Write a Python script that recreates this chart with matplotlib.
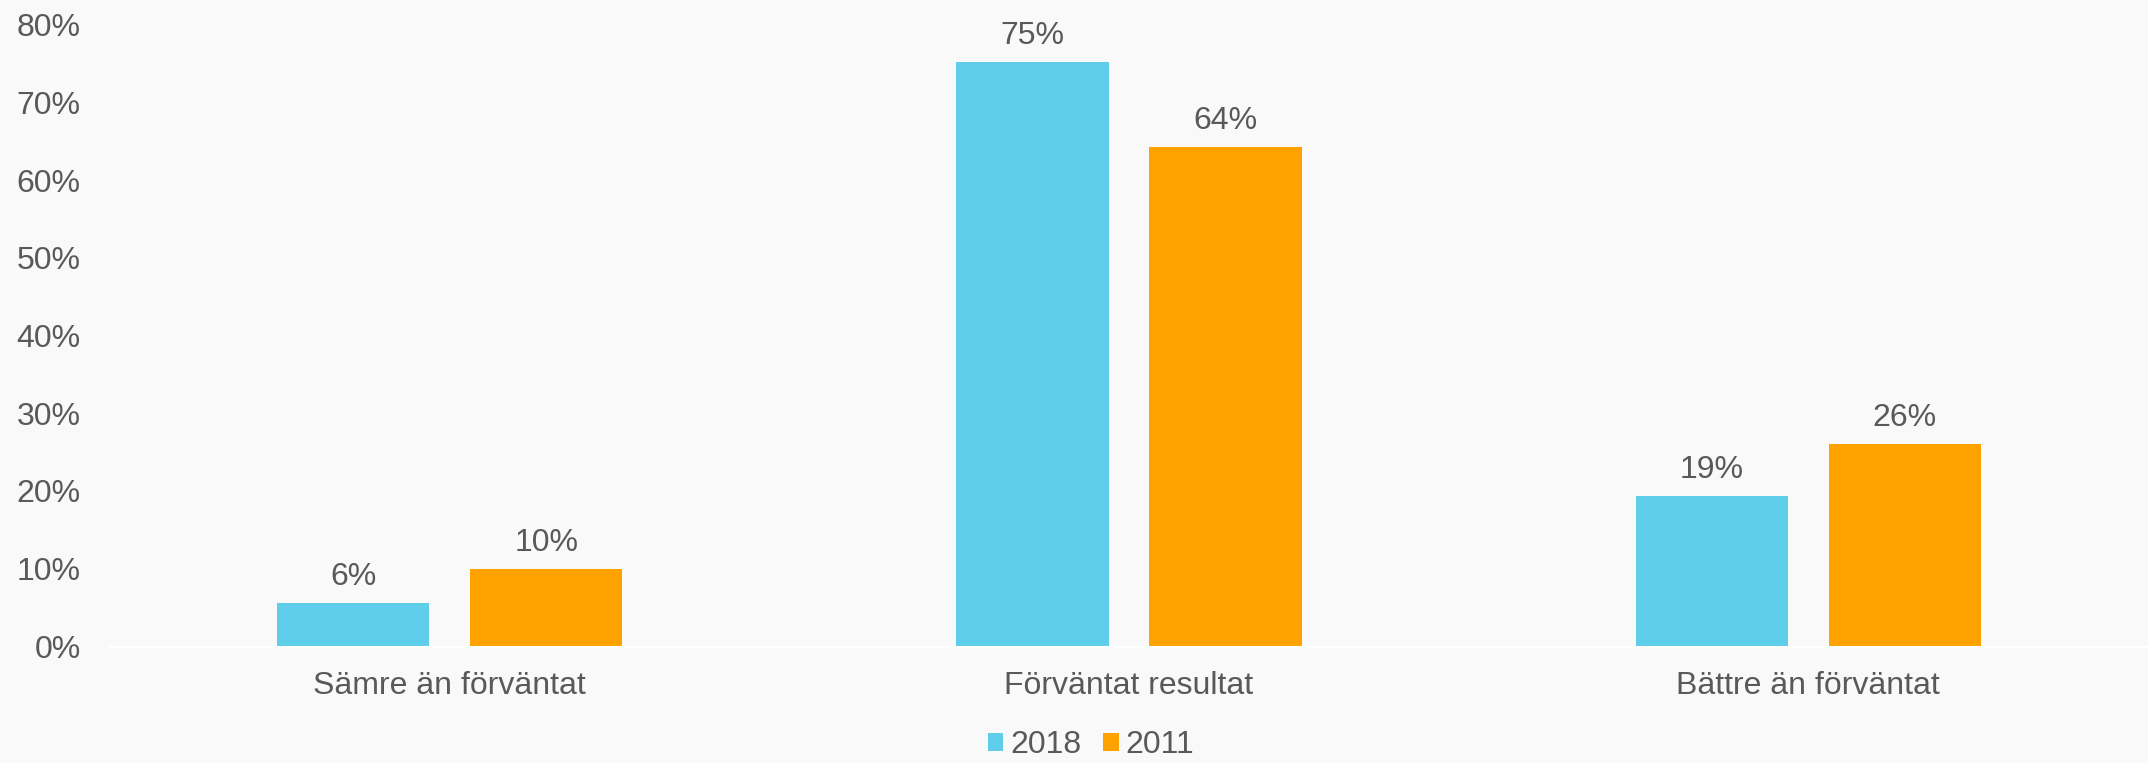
import numpy as np
import matplotlib
matplotlib.use("Agg")
import matplotlib.pyplot as plt
from matplotlib.ticker import FuncFormatter

# data to plot
categories = ["Sämre än förväntat", "Förväntat resultat", "Bättre än förväntat"]
series_names = ["2018", "2011"]
values_2018 = [5.6, 75.2, 19.3]
values_2011 = [10.0, 64.2, 26.0]

colors = ["#5ECEEB", "#FFA200"]
text_color = "#595959"
bg = "#F9F9F9"
fs = 23

plt.rcParams["font.family"] = ["Liberation Sans", "DejaVu Sans"]

fig = plt.figure(figsize=(21.48, 7.63), dpi=100, facecolor=bg)
ax = fig.add_axes([110 / 2148, 1 - 646.5 / 763, 1 - 110 / 2148, (646.5 - 24.5) / 763])
ax.set_facecolor(bg)

index = np.arange(len(categories))
bar_width = 0.224
offset = 0.142

for i, (name, vals) in enumerate(zip(series_names, [values_2018, values_2011])):
    pos = index + (offset if i else -offset)
    bars = ax.bar(pos, vals, bar_width, color=colors[i], label=name, zorder=2)
    for b, v in zip(bars, vals):
        ax.annotate(f"{v:.0f}%", (b.get_x() + b.get_width() / 2, v),
                    xytext=(0, 8), textcoords="offset points",
                    ha="center", va="bottom", fontsize=fs, color=text_color)

ax.set_xlim(-0.5, 2.5)
ax.set_ylim(0, 80)
ax.set_yticks(np.arange(0, 81, 10))
ax.yaxis.set_major_formatter(FuncFormatter(lambda x, p: f"{x:.0f}%"))
ax.set_xticks(index)
ax.set_xticklabels(categories)
ax.tick_params(axis="y", length=0, pad=21, labelsize=fs, labelcolor=text_color)
ax.tick_params(axis="x", length=0, pad=18, labelsize=fs, labelcolor=text_color)

for s in ["top", "right", "left"]:
    ax.spines[s].set_visible(False)
ax.spines["bottom"].set_color("#FFFFFF")
ax.spines["bottom"].set_linewidth(1.5)
ax.spines["bottom"].set_zorder(3)

leg = fig.legend(loc="center", bbox_to_anchor=(1091 / 2148, 1 - 745 / 763),
                 ncol=2, frameon=False, fontsize=fs, handlelength=0.5,
                 handleheight=0.5, handletextpad=0.2, columnspacing=0.7,
                 borderpad=0, borderaxespad=0)
for t in leg.get_texts():
    t.set_color(text_color)

fig.savefig("out.png", dpi=100, facecolor=bg)
